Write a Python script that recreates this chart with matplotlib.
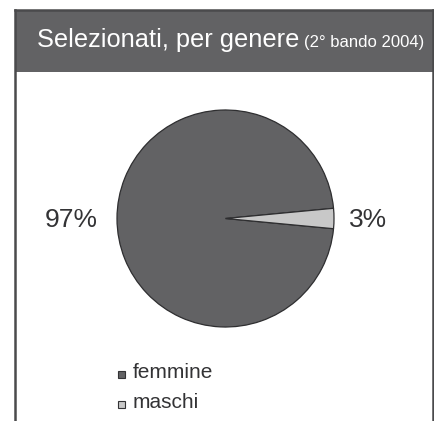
import matplotlib
matplotlib.use("Agg")
import matplotlib.pyplot as plt
from matplotlib.patches import Rectangle
from matplotlib.lines import Line2D

# Data
categories = ["femmine", "maschi"]
shares = [97, 3]
colors = ["#626264", "#c8c8c8"]
title_main = "Selezionati, per genere"
title_sub = "(2° bando 2004)"

W, H = 435, 421
plt.rcParams["font.family"] = ["Liberation Sans", "DejaVu Sans"]
fig = plt.figure(figsize=(W / 100, H / 100), dpi=100)
fig.patch.set_facecolor("white")


def fx(x):
    return x / W


def fy(y):
    return 1 - y / H


# Panel frame with dark header band
header = Rectangle((fx(15.5), fy(72)), fx(433.5) - fx(15.5), fy(10) - fy(72),
                   transform=fig.transFigure, facecolor="#626264",
                   edgecolor="none", zorder=0)
fig.patches.append(header)
frame_color = "#4a4a4c"
for xs, ys in [([15.5, 15.5], [10, H + 2]),
               ([433.5, 433.5], [10, H + 2]),
               ([15.5, 433.5], [10, 10])]:
    fig.add_artist(Line2D([fx(v) for v in xs], [fy(v) for v in ys],
                          transform=fig.transFigure, color=frame_color,
                          linewidth=1.8, solid_capstyle="projecting"))

t_main = fig.text(fx(37), fy(47), title_main, color="white", fontsize=18.3,
                  ha="left", va="baseline")
renderer = fig.canvas.get_renderer()
bb = t_main.get_window_extent(renderer)
fig.text((bb.x1 + 5) / W, fy(47), title_sub, color="white", fontsize=12,
         ha="left", va="baseline")

# Pie
r_px = 108.5
cx, cy = 225.5, 218.5
ax = fig.add_axes([fx(cx - r_px), fy(cy + r_px), 2 * r_px / W, 2 * r_px / H])
start = 180 * shares[1] / sum(shares)
ax.pie(shares, colors=colors, startangle=start, counterclock=True,
       radius=1.0, wedgeprops=dict(edgecolor="#2e2e30", linewidth=0.9))
ax.set_xlim(-1, 1)
ax.set_ylim(-1, 1)
ax.set_axis_off()

# Percentage labels
fig.text(fx(45), fy(227), f"{shares[0]}%", fontsize=19, color="#333335",
         ha="left", va="baseline")
fig.text(fx(349), fy(227), f"{shares[1]}%", fontsize=19, color="#333335",
         ha="left", va="baseline")

# Legend
for i, (lab, col) in enumerate(zip(categories, colors)):
    base = 378 + 30 * i
    sq = Rectangle((fx(118), fy(base)), 7 / W, 7 / H, transform=fig.transFigure,
                   facecolor=col, edgecolor="#333335", linewidth=0.8)
    fig.patches.append(sq)
    fig.text(fx(133), fy(base), lab, fontsize=15, color="#333335",
             ha="left", va="baseline")

fig.savefig("out.png", dpi=100)
